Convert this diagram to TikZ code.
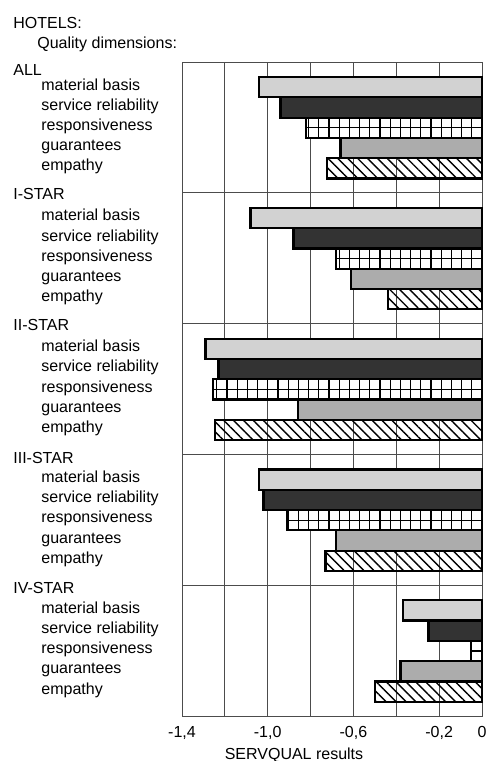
\documentclass[tikz,border=0pt]{standalone}
\usepackage{fontspec}
\setmainfont{Liberation Sans}
\usepackage{tikz}
\usetikzlibrary{positioning, patterns.meta}

\tikzset{
  txt/.style={anchor=base west, inner sep=0pt, font=\fontsize{8}{9.6}\selectfont},
  tick/.style={anchor=base, inner sep=0pt, font=\fontsize{8}{9.6}\selectfont},
  gridline/.style={black!70, line width=0.5pt},
  barbox/.style={draw=black, line width=1.1pt},
  bar0/.style={fill=gray!35},
  bar1/.style={fill=black!80},
  bar2/.style={fill=white},
  bar3/.style={fill=gray!65},
  bar4/.style={pattern={Lines[angle=-45,distance=3.5pt,line width=0.7pt]}},
}

\begin{document}
\begin{tikzpicture}[x=0.5pt, y=-0.5pt]
\useasboundingbox (0,0) rectangle (488,761);

% Titles
\node[txt] (hotels) at (13,28) {HOTELS:};
\node[txt] (qdim) at (37,48) {Quality dimensions:};

% Groups and dimensions
\foreach \lab/\yb [count=\g from 0] in {ALL/75, I-STAR/199, II-STAR/330, III-STAR/463, IV-STAR/593} {
  \node[txt] (g\g) at (13,\yb) {\lab};
  \foreach \it [count=\k from 0] in {material basis, service reliability, responsiveness, guarantees, empathy}
    \node[txt] (g\g-\k) at (41,{62+130.8*\g+28+20.2*\k}) {\it};
}

% Grid
\foreach \v in {-1.2,-1.0,...,-0.1}
  \draw[gridline] ({482+214.3*\v},62) -- ({482+214.3*\v},716);
\foreach \g in {1,...,4}
  \draw[gridline] (182,{62+130.8*\g}) -- (482,{62+130.8*\g});
\draw[gridline] (182,62) rectangle (482,716);

% Bars
\foreach \vals [count=\g from 0] in {
    {-1.04,-0.94,-0.82,-0.66,-0.725},
    {-1.08,-0.88,-0.68,-0.61,-0.44},
    {-1.29,-1.23,-1.255,-0.86,-1.245},
    {-1.04,-1.02,-0.91,-0.68,-0.73},
    {-0.37,-0.25,-0.05,-0.38,-0.50}} {
  \foreach \v [count=\k from 0] in \vals {
    \pgfmathsetmacro{\xl}{482+214.3*\v}
    \pgfmathsetmacro{\ya}{62+130.8*\g+15+20.3*\k}
    \pgfmathsetmacro{\yb}{\ya+20.3}
    \fill[bar\k] (\xl,\ya) rectangle (482,\yb);
    \ifnum\k=2
      \begin{scope}
        \clip (\xl,\ya) rectangle (482,\yb);
        \foreach \xx in {0,10.2,...,310}
          \draw[line width=0.6pt] ({482-\xx},\ya) -- ({482-\xx},\yb);
        \draw[line width=0.6pt] (\xl,{(\ya+\yb)/2}) -- (482,{(\ya+\yb)/2});
      \end{scope}
    \fi
    \draw[barbox] (\xl,\ya) rectangle (482,\yb);
  }
}

% Axis labels
\foreach \v/\t [count=\i] in {-1.4/{-1,4}, -1.0/{-1,0}, -0.6/{-0,6}, -0.2/{-0,2}, 0/0}
  \node[tick] (t\i) at ({482+214.3*\v},737) {\t};
\node[tick] (xlab) at (294,759) {SERVQUAL results};

\end{tikzpicture}
\end{document}
